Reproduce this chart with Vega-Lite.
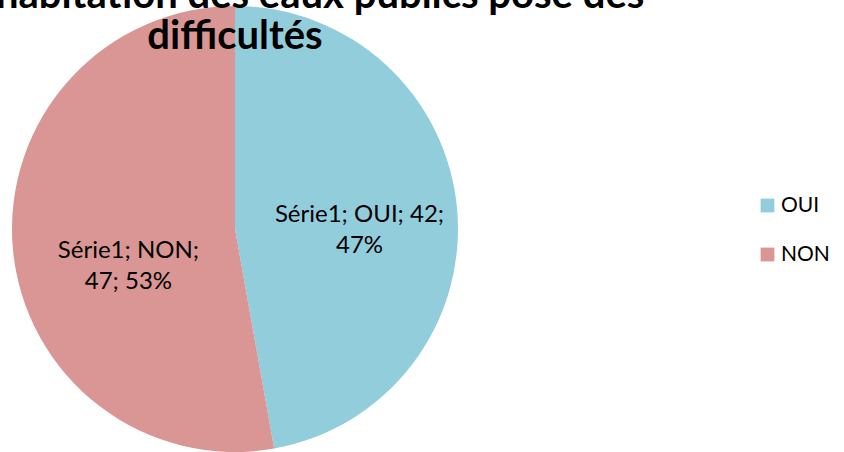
{
  "$schema": "https://vega.github.io/schema/vega-lite/v6.json",
  "autosize": {"type": "none"},
  "width": 470,
  "height": 458,
  "padding": {"left": 0, "top": 0, "right": 374, "bottom": 0},
  "background": "white",
  "config": {"view": {"stroke": null}, "text": {"lineBreak": "\n"}},
  "title": {
    "text": ["\u2800\u2800\u2800\u2800\u2800L'habitation des eaux publics pose des", "difficultés"],
    "font": "Lato",
    "fontSize": 40,
    "fontWeight": "bold",
    "color": "#000000",
    "anchor": "middle",
    "baseline": "alphabetic",
    "lineHeight": 41,
    "offset": 0,
    "dy": 89
  },
  "data": {
    "values": [
      {"reponse": "OUI", "nombre": 42, "label": "Série1; OUI; 42;\n47%", "ordre": 1},
      {"reponse": "NON", "nombre": 47, "label": "Série1; NON;\n47; 53%", "ordre": 2}
    ]
  },
  "encoding": {
    "theta": {"field": "nombre", "type": "quantitative", "stack": true},
    "order": {"field": "ordre", "type": "quantitative"},
    "color": {
      "field": "reponse",
      "type": "nominal",
      "scale": {"domain": ["OUI", "NON"], "range": ["#92CDDC", "#D99694"]},
      "legend": {
        "orient": "none",
        "legendX": 757,
        "legendY": 195,
        "title": null,
        "symbolType": "square",
        "symbolSize": 190,
        "symbolStrokeWidth": 0,
        "labelFont": "Lato",
        "labelFontSize": 21,
        "labelColor": "#000000",
        "labelOffset": 3,
        "rowPadding": 27
      }
    }
  },
  "layer": [
    {"mark": {"type": "arc", "outerRadius": 223}},
    {
      "mark": {"type": "text", "radius": 125, "font": "Lato", "fontSize": 24, "color": "#000000", "lineHeight": 31, "align": "center", "baseline": "middle", "dy": -3},
      "encoding": {
        "text": {"condition": {"test": "datum.reponse === 'OUI'", "field": "label"}, "value": ""},
        "color": {"value": "#000000"}
      }
    },
    {
      "mark": {"type": "text", "radius": 107, "font": "Lato", "fontSize": 24, "color": "#000000", "lineHeight": 31, "align": "center", "baseline": "middle", "dy": 13},
      "encoding": {
        "text": {"condition": {"test": "datum.reponse === 'NON'", "field": "label"}, "value": ""},
        "color": {"value": "#000000"}
      }
    }
  ]
}
